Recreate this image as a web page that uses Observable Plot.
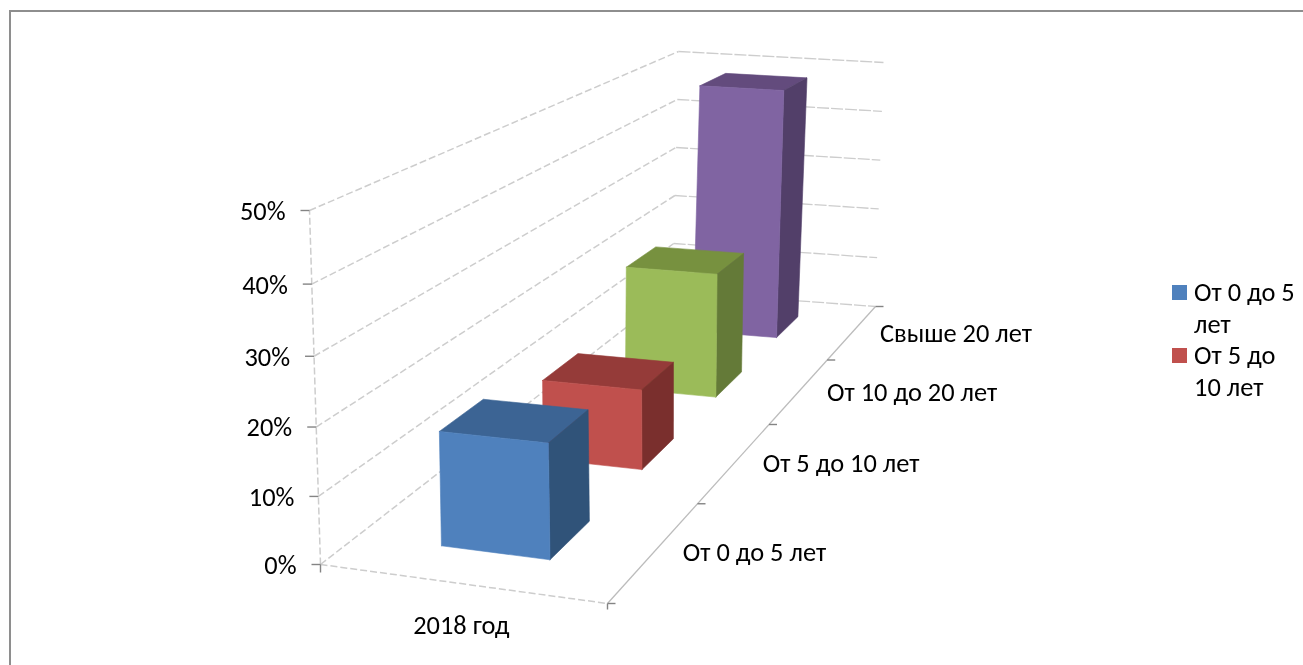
<!DOCTYPE html>
<html lang="ru"><head><meta charset="utf-8">
<script src="https://cdn.jsdelivr.net/npm/d3@7"></script>
<script src="https://cdn.jsdelivr.net/npm/@observablehq/plot@0.6"></script>
<style>
html,body{margin:0;padding:0;background:#fff;overflow:hidden}
#wrap{position:relative;width:1303px;height:665px;font-family:Carlito,Lato,"Open Sans",sans-serif;color:#000}
#frame{position:absolute;left:9px;top:10px;right:0;bottom:0;border-left:2.5px solid #8e8e8e;border-top:2.5px solid #8e8e8e}
#chart{position:absolute;left:0;top:0;filter:blur(.5px)}
.sw{position:absolute;width:15px;height:15px}
.lg{position:absolute;left:1194px;font-size:26.4px;line-height:31.5px;white-space:nowrap;filter:blur(.4px)}
</style></head><body><div id="wrap"><div id="frame"></div><div id="chart"></div></div>
<script>
// data
const periods = ["От 0 до 5 лет", "От 5 до 10 лет", "От 10 до 20 лет", "Свыше 20 лет"];
const shares = [17, 13, 22, 48];
const yearLabel = "2018 год";
const yTicks = [0, 10, 20, 30, 40, 50];
const frontColors = ["#4f81bd", "#c0504d", "#9bbb59", "#8064a2"];
const topColors = ["#3c6494", "#953b39", "#77913f", "#634b7d"];
const sideColors = ["#305379", "#7a2f2d", "#647a38", "#523f69"];
const legendLines = [["От 0 до 5", "лет"], ["От 5 до", "10 лет"]];

// perspective camera of the 3-D box: u across, v in depth, value upward
const quad = (A, B, C, D) => {
  const dx1 = B[0] - C[0], dx2 = D[0] - C[0], sx = A[0] - B[0] + C[0] - D[0];
  const dy1 = B[1] - C[1], dy2 = D[1] - C[1], sy = A[1] - B[1] + C[1] - D[1];
  const det = dx1 * dy2 - dx2 * dy1;
  const g = (sx * dy2 - dx2 * sy) / det, h = (dx1 * sy - sx * dy1) / det;
  const a = B[0] - A[0] + g * B[0], b = D[0] - A[0] + h * D[0];
  const d = B[1] - A[1] + g * B[1], e = D[1] - A[1] + h * D[1];
  return (u, v) => {
    const w = g * u + h * v + 1;
    return [(a * u + b * v + A[0]) / w, (d * u + e * v + A[1]) / w];
  };
};
const floor = quad([320, 564], [607, 603], [875, 306], [672, 291]);
const ceil = quad([309, 210], [598, 228], [883, 62], [678, 51]);
const barCeil = quad([309, 210], [600, 228], [885, 62], [681, 51]);
const maxV = d3.max(yTicks);
const lift = (f, c, val, v) => {
  const r = val / maxV, t = r / (1 + 0.05 * (1 - v) * (1 - r));
  return [f[0] + (c[0] - f[0]) * t, f[1] + (c[1] - f[1]) * t];
};
const P = (u, v, val) => lift(floor(u, v), ceil(u, v), val, v);
const B = (u, v, val) => lift(floor(u, v), barCeil(u, v), val, v);

// walls and floor
const seg = (a, b) => ({x1: a[0], y1: a[1], x2: b[0], y2: b[1]});
const leftWall = yTicks.map(t => seg(P(0, 0, t), P(0, 1, t)));
leftWall.push(seg(P(0, 0, 0), P(0, 0, maxV)));
leftWall.push(seg(P(0, 0, 0), P(1, 0, 0)));
const backWall = yTicks.map(t => seg(P(0, 1, t), P(1, 1, t)));
const floorEdge = [seg(P(1, 0, 0), P(1, 1, 0))];
const offs = (p, dx, dy) => [p[0] + dx, p[1] + dy];
const ticks = [
  ...yTicks.map(t => seg(offs(P(0, 0, t), -9, 0), P(0, 0, t))),
  seg(P(0, 0, 0), offs(P(0, 0, 0), 0, 8)),
  seg(P(1, 0, 0), offs(P(1, 0, 0), 0, 6)),
  ...d3.range(0, periods.length + 1).map(i => seg(P(1, i / periods.length, 0), offs(P(1, i / periods.length, 0), 8, 0)))
];

// bar faces, drawn from the back to the front
const n = periods.length;
const faces = [];
const addFace = (id, color, pts) => [...pts, pts[0]].forEach(p => faces.push({id, color, x: p[0], y: p[1]}));
d3.range(n - 1, -1, -1).forEach(i => {
  const v0 = (i + 0.3) / n, v1 = (i + 0.7) / n, s = shares[i], u0 = .31, u1 = .7;
  addFace(`t${i}`, topColors[i], [B(u0, v0, s), B(u1, v0, s), B(u1, v1, s), B(u0, v1, s)]);
  addFace(`s${i}`, sideColors[i], [B(u1, v0, 0), B(u1, v1, 0), B(u1, v1, s), B(u1, v0, s)]);
  addFace(`f${i}`, frontColors[i], [B(u0, v0, 0), B(u1, v0, 0), B(u1, v0, s), B(u0, v0, s)]);
});

const yLabels = yTicks.map(t => {const p = P(0, 0, t); return {x: p[0], y: p[1], text: t + "%"};});
const depthLabels = periods.map((text, i) => {const p = P(1, (i + .5) / n, 0); return {x: p[0], y: p[1], text};});
const floorMid = P(.5, 0, 0);

const plot = Plot.plot({
  width: 1303, height: 665, margin: 0,
  x: {domain: [0, 1303], range: [0, 1303], axis: null},
  y: {domain: [0, 665], range: [0, 665], axis: null},
  color: {type: "identity"},
  style: {fontFamily: 'Carlito,Lato,"Open Sans",sans-serif', background: "transparent"},
  marks: [
    Plot.link(leftWall, {x1: "x1", y1: "y1", x2: "x2", y2: "y2", stroke: "#cdcdcd", strokeWidth: 1.5, strokeDasharray: "7,3"}),
    Plot.link(backWall, {x1: "x1", y1: "y1", x2: "x2", y2: "y2", stroke: "#cdcdcd", strokeWidth: 1.3, strokeDasharray: "12,2"}),
    Plot.link(floorEdge, {x1: "x1", y1: "y1", x2: "x2", y2: "y2", stroke: "#bcbcbc", strokeWidth: 1.3}),
    Plot.link(ticks, {x1: "x1", y1: "y1", x2: "x2", y2: "y2", stroke: "#848484", strokeWidth: 1.4}),
    Plot.line(faces, {x: "x", y: "y", z: "id", fill: "color", stroke: "color", strokeWidth: .6, curve: "linear"}),
    Plot.text(yLabels, {x: "x", y: "y", text: "text", textAnchor: "end", dx: -24, dy: 1, fontSize: 26.4, fill: "#000"}),
    Plot.text(depthLabels, {x: "x", y: "y", text: "text", textAnchor: "start", dx: 27.5, dy: 1.5, fontSize: 26.4, fill: "#000"}),
    Plot.text([yearLabel], {x: () => floorMid[0], y: () => floorMid[1], text: d => d, dx: 1.5, dy: 42, fontSize: 26.4, fill: "#000"})
  ]
});
document.getElementById("chart").append(plot);

// legend (only the rows that fit are shown in the reference)
const wrap = document.getElementById("wrap");
legendLines.forEach((lines, i) => {
  const top = 277 + i * 63;
  const sw = document.createElement("div");
  sw.className = "sw"; sw.style.left = "1172px"; sw.style.top = (top + 8) + "px"; sw.style.background = frontColors[i];
  wrap.append(sw);
  const t = document.createElement("div");
  t.className = "lg"; t.style.top = top + "px"; t.innerHTML = lines.join("<br>");
  wrap.append(t);
});
</script></body></html>
